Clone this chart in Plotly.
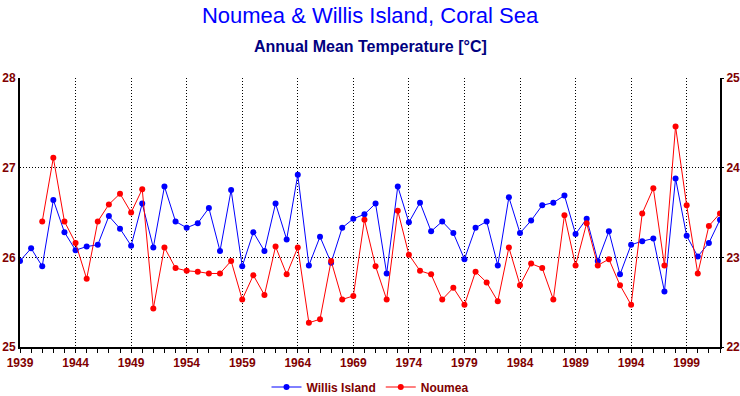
import plotly.graph_objects as go

years_willis = list(range(1939, 2003))
willis = [25.96, 26.10, 25.90, 26.64, 26.28, 26.08, 26.12, 26.14, 26.46, 26.32,
          26.13, 26.60, 26.11, 26.79, 26.40, 26.33, 26.38, 26.55, 26.07, 26.75,
          25.90, 26.28, 26.07, 26.60, 26.20, 26.92, 25.91, 26.23, 25.94, 26.33,
          26.43, 26.48, 26.60, 25.82, 26.79, 26.39, 26.61, 26.29, 26.40, 26.27,
          25.98, 26.33, 26.40, 25.91, 26.67, 26.27, 26.41, 26.58, 26.61, 26.69,
          26.26, 26.43, 25.96, 26.29, 25.81, 26.14, 26.18, 26.21, 25.62, 26.88,
          26.24, 26.01, 26.16, 26.42]

years_noumea = list(range(1941, 2003))
noumea = [23.40, 24.11, 23.40, 23.16, 22.76, 23.40, 23.59, 23.71, 23.50, 23.76,
          22.43, 23.11, 22.88, 22.85, 22.84, 22.82, 22.82, 22.96, 22.53, 22.80,
          22.58, 23.12, 22.81, 23.11, 22.27, 22.31, 22.96, 22.53, 22.57, 23.42,
          22.90, 22.53, 23.52, 23.03, 22.85, 22.81, 22.53, 22.66, 22.47, 22.84,
          22.72, 22.51, 23.11, 22.69, 22.93, 22.88, 22.53, 23.47, 22.91, 23.38,
          22.91, 22.98, 22.69, 22.47, 23.49, 23.77, 22.91, 24.46, 23.58, 22.82,
          23.35, 23.49]

x_ticks = list(range(1939, 2000, 5))
left_ticks = [25, 26, 27, 28]
right_ticks = [22, 23, 24, 25]

DARKRED = "#800000"
FONT = "Liberation Sans, Arial, sans-serif"
tickfont = dict(family=FONT, size=12, color=DARKRED, weight="bold")
DOT = "1px,2px"

fig = go.Figure()
fig.add_trace(go.Scatter(x=years_willis, y=willis, name="Willis Island", mode="lines+markers",
                         line=dict(color="#0000FF", width=1), marker=dict(color="#0000FF", size=6)))
fig.add_trace(go.Scatter(x=years_noumea, y=noumea, name="Noumea", mode="lines+markers", yaxis="y2",
                         line=dict(color="#FF0000", width=1), marker=dict(color="#FF0000", size=6)))

fig.update_layout(
    width=740, height=396,
    margin=dict(l=20, r=20, t=78, b=49, autoexpand=False),
    paper_bgcolor="white", plot_bgcolor="white",
    title=dict(text="Noumea & Willis Island, Coral Sea", x=0.5, xanchor="center",
               yref="container", y=1 - 15 / 396, yanchor="middle",
               font=dict(family=FONT, size=22, color="#0000FF")),
    annotations=[dict(text="Annual Mean Temperature [°C]", xref="paper", yref="paper",
                      x=0.5, y=1 + 32 / 269, xanchor="center", yanchor="middle", showarrow=False,
                      font=dict(family=FONT, size=16, color="#000080", weight="bold"))],
    xaxis=dict(range=[1939, 2002], tickvals=x_ticks, ticktext=[str(v) for v in x_ticks],
               showgrid=True, gridcolor="black", griddash=DOT, gridwidth=1,
               showline=True, linecolor="black", linewidth=2, ticks="outside", ticklen=4,
               tickcolor="black", tickfont=tickfont, zeroline=False, automargin=False,
               minor=dict(dtick=1, tick0=1939, ticks="outside", ticklen=4, tickcolor="black", showgrid=False)),
    yaxis=dict(range=[25, 28], tickvals=left_ticks, showgrid=True, gridcolor="black", griddash=DOT,
               gridwidth=1, showline=True, linecolor="black", linewidth=2, ticks="",
               tickfont=tickfont, zeroline=False, automargin=False),
    yaxis2=dict(range=[22, 25], tickvals=right_ticks, overlaying="y", side="right", showgrid=False,
                showline=True, linecolor="black", linewidth=2, ticks="outside", ticklen=2,
                tickcolor="black", tickfont=tickfont, zeroline=False, automargin=False),
    legend=dict(orientation="h", x=0.5, xanchor="center", y=-40 / 269, yanchor="middle",
                font=dict(family=FONT, size=12, color=DARKRED, weight="bold"),
                bgcolor="rgba(0,0,0,0)"),
    showlegend=True,
)

fig.write_html("out.html", config={"displayModeBar": False},
               post_script="document.body.style.margin='0';document.body.style.overflow='hidden';")
